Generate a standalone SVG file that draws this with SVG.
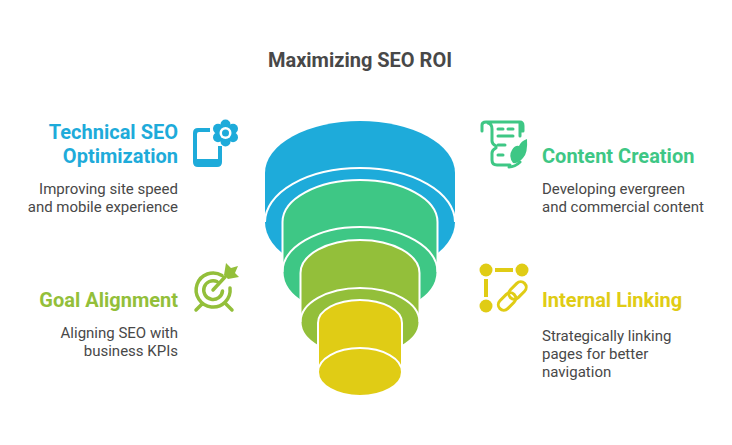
<svg xmlns="http://www.w3.org/2000/svg" width="732" height="445" viewBox="0 0 732 445">
<style>
text{font-family:Roboto,"Liberation Sans",sans-serif}
.t{font-size:20px;font-weight:700}
.d{font-size:15px;fill:#484848}
.e{text-anchor:end}
.bl{fill:#1eabda}.gr{fill:#3ec785}.ol{fill:#93bf3a}.ye{fill:#e0cc15}
.ws{stroke:#fff;stroke-width:2}
.a{fill:none;stroke:#fff;stroke-width:2}
.is{fill:none;stroke-width:4;stroke-linecap:round;stroke-linejoin:round}
.lk{fill:none;stroke:#e0cc15;stroke-width:3}
</style>
<rect width="732" height="445" fill="#fff"/>
<text x="360" y="67" text-anchor="middle" style="font-size:20px;font-weight:700;fill:#484848">Maximizing SEO ROI</text>
<g id="funnel">
<g id="layer-technical">
<path class="bl" d="M265 173A95 52 0 0 1 455 173V222A95 54 0 0 1 265 222Z"/>
<path class="a" d="M265 222A95 54 0 0 1 455 222"/>
</g>
<g id="layer-content">
<path class="gr ws" d="M282.500 222A77.500 42 0 0 1 437.500 222V272A77.500 45 0 0 1 282.500 272Z"/>
<path class="a" d="M282.500 272A77.500 45 0 0 1 437.500 272"/>
</g>
<g id="layer-goal">
<path class="ol ws" d="M300.500 273A59.500 33 0 0 1 419.500 273V322A59.500 34 0 0 1 300.500 322Z"/>
<path class="a" d="M300.500 322A59.500 34 0 0 1 419.500 322"/>
</g>
<g id="layer-linking">
<path class="ye ws" d="M318 323A42 23 0 0 1 402 323V372A42 24 0 0 1 318 372Z"/>
<path class="a" d="M318 372A42 24 0 0 1 402 372"/>
</g>
</g>
<g id="node-technical">
<text class="t e" x="178" y="139" fill="#1eabda">Technical SEO</text>
<text class="t e" x="178" y="163" fill="#1eabda">Optimization</text>
<text class="d e" x="178" y="194">Improving site speed</text>
<text class="d e" x="178" y="212">and mobile experience</text>
<g>
<path fill="#1eabda" d="M198 128H210V132H199Q197 132 197 134V159H218V146H222V162Q222 167 217 167H198Q193 167 193 162V133Q193 128 198 128Z"/>
<g fill="#1eabda">
<circle cx="225.500" cy="124.500" r="5"/><circle cx="225.500" cy="141.500" r="5"/>
<circle cx="218" cy="128.700" r="5"/><circle cx="233" cy="128.700" r="5"/>
<circle cx="218" cy="137.300" r="5"/><circle cx="233" cy="137.300" r="5"/>
<circle cx="225.500" cy="133" r="9"/>
</g>
<circle cx="225.500" cy="133" r="6" fill="#fff"/>
<circle cx="225.500" cy="133" r="3.500" fill="#1eabda"/>
</g>
</g>
<g id="node-content">
<text class="t" x="542" y="163" fill="#3ec785">Content Creation</text>
<text class="d" x="542" y="194">Developing evergreen</text>
<text class="d" x="542" y="212">and commercial content</text>
<g>
<path class="is" stroke="#3ec785" style="stroke-width:3" d="M482 131V125Q482 122 486 122H520Q523 122 523 126V131H520M520 123V136M488 123Q492 124 492 129V141Q492 144 496 146V148Q492 150 492 153V160Q492 165 497 165H510"/>
<path class="is" stroke="#3ec785" style="stroke-width:3" d="M498 129H503M508 129H513M498 136H513M498 145H505M498 155H503M509 167Q515 167 520 162"/>
<path fill="#3ec785" d="M527 139Q528 153 523 158Q518 164 513 163Q508 156 512 150Q515 145 519 146Q521 141 527 139Z"/>
</g>
</g>
<g id="node-goal">
<text class="t e" x="178" y="307" fill="#93bf3a">Goal Alignment</text>
<text class="d e" x="178" y="338">Aligning SEO with</text>
<text class="d e" x="178" y="356">business KPIs</text>
<g>
<path class="is" stroke="#93bf3a" style="stroke-width:3.500" d="M222 275.500A17 17 0 1 0 230 288M217 281.500A9.400 9.400 0 1 0 222.500 291M213 290L225 277M196 310L202 304M232 310L226 304"/>
<path fill="#93bf3a" d="M224 275L226 263L231 268L238 266L235 273L239 277L228 279Z"/>
</g>
</g>
<g id="node-linking">
<text class="t" x="542" y="307" fill="#e0cc15">Internal Linking</text>
<text class="d" x="542" y="341">Strategically linking</text>
<text class="d" x="542" y="359">pages for better</text>
<text class="d" x="542" y="377">navigation</text>
<g fill="#e0cc15">
<circle cx="486" cy="270" r="6.500"/><circle cx="522" cy="270" r="6.500"/><circle cx="486" cy="306" r="6.500"/>
<rect x="495" y="268" width="18" height="4"/><rect x="484" y="279" width="4" height="18"/>
<rect class="lk" x="497" y="296" width="20" height="11" rx="5.500" transform="rotate(-45 507 301.500)"/>
<rect class="lk" x="507.500" y="285" width="20" height="11" rx="5.500" transform="rotate(-45 517.500 290.500)"/>
</g>
</g>
</svg>
